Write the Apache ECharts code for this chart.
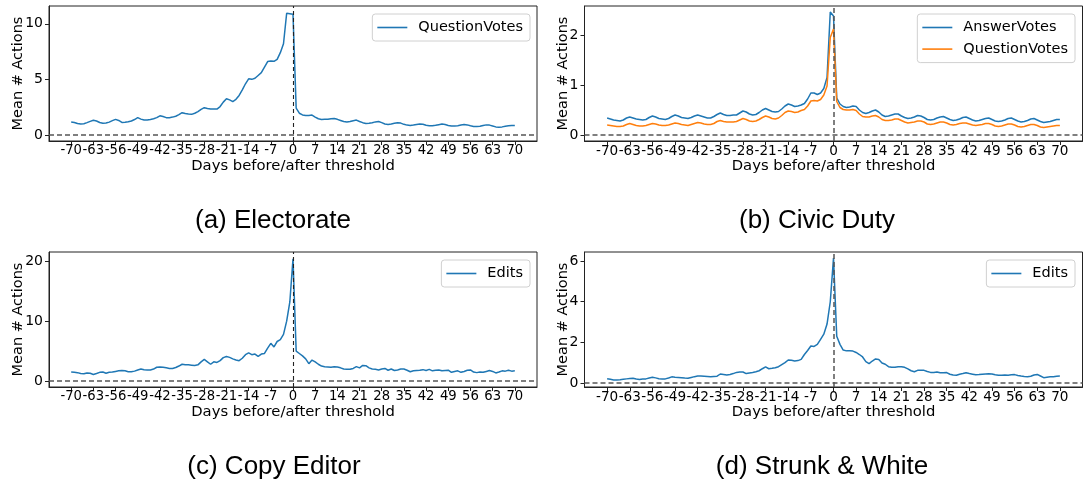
<!DOCTYPE html>
<html><head><meta charset="utf-8">
<script src="https://cdn.jsdelivr.net/npm/echarts@6/dist/echarts.min.js"></script>
<style>
html,body{margin:0;padding:0;background:#fff;width:1084px;height:483px;overflow:hidden}
.p{position:absolute}
</style></head>
<body>
<div id="pa" class="p" style="left:0;top:0;width:542px;height:246px"></div>
<div id="pb" class="p" style="left:542px;top:0;width:542px;height:246px"></div>
<div id="pc" class="p" style="left:0;top:246px;width:542px;height:237px"></div>
<div id="pd" class="p" style="left:542px;top:246px;width:542px;height:237px"></div>
<script>
// Days before/after threshold
const days = [-70,-69,-68,-67,-66,-65,-64,-63,-62,-61,-60,-59,-58,-57,-56,-55,-54,-53,-52,-51,
-50,-49,-48,-47,-46,-45,-44,-43,-42,-41,-40,-39,-38,-37,-36,-35,-34,-33,-32,-31,
-30,-29,-28,-27,-26,-25,-24,-23,-22,-21,-20,-19,-18,-17,-16,-15,-14,-13,-12,-11,
-10,-9,-8,-7,-6,-5,-4,-3,-2,-1,0,1,2,3,4,5,6,7,8,9,10,11,12,13,14,15,16,17,18,19,20,
21,22,23,24,25,26,27,28,29,30,31,32,33,34,35,36,37,38,39,40,41,42,43,44,45,46,47,48,49,50,
51,52,53,54,55,56,57,58,59,60,61,62,63,64,65,66,67,68,69,70];

const xTicks = [-70,-63,-56,-49,-42,-35,-28,-21,-14,-7,0,7,14,21,28,35,42,49,56,63,70];

// (a) Electorate — QuestionVotes
const electorateQuestionVotes = [1.17,1.12,1.02,0.97,1.00,1.10,1.22,1.32,1.25,1.12,1.05,1.07,1.15,1.28,1.40,1.30,1.12,1.13,1.18,1.25,
1.38,1.55,1.42,1.34,1.33,1.38,1.45,1.55,1.72,1.65,1.55,1.55,1.60,1.68,1.82,2.00,1.92,1.88,1.85,1.95,
2.10,2.30,2.45,2.38,2.33,2.33,2.32,2.55,2.95,3.25,3.15,3.00,3.20,3.55,4.05,4.60,5.05,5.00,5.10,5.35,
5.60,6.10,6.60,6.65,6.62,6.80,7.40,8.20,10.95,10.90,10.85,
2.40,1.95,1.80,1.75,1.75,1.78,1.60,1.45,1.39,1.40,1.40,1.45,1.48,1.40,1.30,1.20,1.15,1.20,1.28,1.33,
1.20,1.10,1.03,1.05,1.10,1.17,1.21,1.10,0.98,0.94,0.98,1.04,1.09,1.06,0.95,0.88,0.85,0.88,0.93,0.97,
0.95,0.86,0.83,0.82,0.86,0.92,0.97,0.93,0.85,0.80,0.79,0.83,0.89,0.94,0.90,0.82,0.76,0.75,0.78,0.84,
0.90,0.88,0.80,0.72,0.69,0.72,0.78,0.82,0.85,0.85];

// (b) Civic Duty — AnswerVotes / QuestionVotes
const civicAnswerVotes = [0.34,0.32,0.30,0.29,0.28,0.30,0.34,0.36,0.34,0.32,0.31,0.30,0.31,0.35,0.38,0.36,0.33,0.32,0.31,0.33,
0.37,0.40,0.38,0.35,0.34,0.33,0.35,0.38,0.40,0.38,0.36,0.34,0.34,0.37,0.41,0.44,0.41,0.39,0.39,0.40,
0.40,0.44,0.48,0.46,0.42,0.40,0.41,0.45,0.50,0.53,0.50,0.47,0.46,0.47,0.52,0.58,0.62,0.60,0.57,0.58,
0.60,0.63,0.72,0.84,0.84,0.81,0.84,0.93,1.15,2.46,2.38,
0.74,0.62,0.57,0.55,0.56,0.58,0.57,0.50,0.45,0.43,0.45,0.48,0.50,0.46,0.40,0.37,0.38,0.40,0.42,0.42,
0.38,0.35,0.33,0.34,0.36,0.39,0.38,0.35,0.31,0.30,0.31,0.34,0.36,0.37,0.34,0.31,0.29,0.30,0.32,0.35,
0.36,0.33,0.30,0.28,0.29,0.31,0.33,0.34,0.31,0.28,0.27,0.28,0.30,0.33,0.34,0.31,0.28,0.26,0.27,0.29,
0.32,0.33,0.30,0.27,0.25,0.26,0.27,0.29,0.31,0.31];
const civicQuestionVotes = [0.20,0.19,0.18,0.17,0.17,0.18,0.21,0.23,0.21,0.19,0.18,0.18,0.19,0.21,0.23,0.22,0.20,0.19,0.19,0.20,
0.22,0.24,0.23,0.21,0.20,0.19,0.21,0.23,0.25,0.24,0.22,0.21,0.21,0.23,0.27,0.29,0.27,0.26,0.26,0.26,
0.27,0.30,0.33,0.31,0.28,0.27,0.28,0.31,0.35,0.38,0.36,0.33,0.32,0.34,0.39,0.45,0.48,0.47,0.45,0.46,
0.49,0.51,0.58,0.68,0.69,0.68,0.71,0.80,0.98,1.95,2.12,
0.67,0.55,0.51,0.50,0.50,0.51,0.49,0.42,0.37,0.36,0.36,0.38,0.39,0.36,0.31,0.29,0.29,0.30,0.32,0.32,
0.29,0.26,0.24,0.25,0.26,0.28,0.28,0.26,0.22,0.21,0.22,0.24,0.26,0.26,0.24,0.21,0.20,0.21,0.23,0.24,
0.24,0.22,0.20,0.19,0.20,0.21,0.23,0.23,0.21,0.18,0.17,0.18,0.20,0.22,0.22,0.20,0.17,0.16,0.17,0.19,
0.21,0.21,0.19,0.16,0.15,0.16,0.17,0.18,0.19,0.19];

// (c) Copy Editor — Edits
const copyEditorEdits = [1.50,1.45,1.40,1.25,1.20,1.35,1.30,1.10,1.25,1.45,1.50,1.30,1.45,1.50,1.60,1.70,1.75,1.70,1.55,1.55,
1.65,1.85,2.00,1.90,1.85,1.85,2.00,2.30,2.35,2.30,2.20,2.10,2.10,2.25,2.50,2.80,2.70,2.70,2.65,2.60,
2.70,3.20,3.60,3.20,2.80,3.20,3.10,3.40,3.90,4.10,3.95,3.70,3.50,3.40,3.80,4.40,4.70,4.40,4.50,4.10,
4.50,4.60,5.50,6.30,5.70,6.60,6.90,7.80,10.00,13.20,20.40,
5.00,4.60,4.20,3.70,2.90,3.50,3.20,2.80,2.50,2.40,2.35,2.30,2.40,2.35,2.20,2.00,1.95,1.95,2.10,2.40,
2.20,2.60,2.55,2.20,2.00,1.95,1.85,2.00,2.10,1.80,2.00,1.75,1.85,2.00,2.00,1.80,1.55,1.70,1.75,1.80,
1.90,1.75,1.95,1.70,1.80,1.85,1.70,1.75,1.80,1.45,1.60,1.70,1.45,1.60,1.80,1.85,1.50,1.40,1.50,1.45,
1.60,1.75,1.60,1.35,1.50,1.70,1.65,1.80,1.65,1.70];

// (d) Strunk & White — Edits
const strunkEdits = [0.21,0.18,0.15,0.15,0.16,0.18,0.20,0.22,0.23,0.19,0.17,0.19,0.20,0.24,0.28,0.25,0.21,0.20,0.20,0.24,
0.30,0.28,0.27,0.26,0.24,0.23,0.27,0.31,0.34,0.34,0.33,0.32,0.31,0.32,0.33,0.44,0.42,0.39,0.42,0.46,
0.52,0.54,0.54,0.46,0.49,0.51,0.55,0.60,0.70,0.79,0.70,0.72,0.75,0.80,0.90,1.00,1.13,1.12,1.08,1.10,
1.16,1.40,1.60,1.82,1.80,1.90,2.15,2.40,2.90,4.00,6.15,
2.30,1.90,1.62,1.58,1.58,1.57,1.50,1.40,1.28,1.05,0.95,1.08,1.18,1.16,0.98,0.92,0.80,0.77,0.77,0.80,
0.80,0.77,0.69,0.60,0.55,0.62,0.62,0.62,0.56,0.52,0.51,0.54,0.50,0.50,0.51,0.43,0.39,0.38,0.43,0.46,
0.50,0.46,0.43,0.40,0.41,0.43,0.44,0.45,0.44,0.40,0.38,0.38,0.39,0.38,0.40,0.41,0.37,0.34,0.32,0.31,
0.33,0.39,0.42,0.34,0.26,0.28,0.30,0.31,0.33,0.34];

const yTicksA = [0, 5, 10];
const yTicksB = [0, 1, 2];
const yTicksC = [0, 10, 20];
const yTicksD = [0, 2, 4, 6];

const BLUE = '#1f77b4', ORANGE = '#ff7f0e';
const TICK_FONT = '"DejaVu Sans", sans-serif';

function pairs(vals) { return days.map((d, i) => [d, vals[i]]); }

function build(id, c) {
  const chart = echarts.init(document.getElementById(id), null, {renderer: 'canvas'});
  const series = c.series.map((s, i) => {
    const o = {
      type: 'line', name: s.name, data: pairs(s.values),
      symbol: 'none', showSymbol: false, smooth: false, silent: true,
      lineStyle: {color: s.color, width: 1.5}, itemStyle: {color: s.color},
      z: 3 + i
    };
    if (i === 0) {
      o.markLine = {
        silent: true, symbol: ['none', 'none'], label: {show: false}, animation: false,
        data: [
          {yAxis: 0, lineStyle: {color: '#555', type: [5, 3], width: 1.5}},
          {xAxis: 0, lineStyle: c.vStyle}
        ]
      };
    }
    return o;
  });
  chart.setOption({
    animation: false,
    backgroundColor: '#fff',
    grid: {left: c.left, top: 6, width: c.width, height: 135, show: true, borderColor: '#222', borderWidth: 1, containLabel: false},
    xAxis: {
      type: 'value', min: -77, max: 77,
      name: 'Days before/after threshold', nameLocation: 'middle', nameGap: 18, nameMoveOverlap: false,
      nameTextStyle: {fontFamily: TICK_FONT, fontSize: 14.8, color: '#000'},
      axisLine: {show: true, onZero: false, lineStyle: {color: '#222', width: 1}},
      axisTick: {show: true, length: 4, lineStyle: {color: '#222'}, customValues: xTicks},
      axisLabel: {fontFamily: TICK_FONT, fontSize: c.xFont, color: '#000', margin: 3, customValues: xTicks,
                  hideOverlap: false, showMinLabel: true, showMaxLabel: true},
      splitLine: {show: false}
    },
    yAxis: {
      type: 'value', min: c.yMin, max: c.yMax,
      name: 'Mean # Actions', nameLocation: 'middle', nameGap: c.nameGap, nameMoveOverlap: false,
      nameTextStyle: {fontFamily: TICK_FONT, fontSize: 14.5, color: '#000'},
      axisLine: {show: true, onZero: false, lineStyle: {color: '#222', width: 1}},
      axisTick: {show: true, length: 4, lineStyle: {color: '#222'}, customValues: c.yTicks},
      axisLabel: {fontFamily: TICK_FONT, fontSize: 14, color: '#000', margin: 6, customValues: c.yTicks},
      splitLine: {show: false}
    },
    legend: {
      show: true, orient: 'vertical', right: c.legendRight, top: 14,
      data: c.series.map(s => s.name),
      icon: 'rect', itemWidth: 30, itemHeight: 1.6, itemGap: 4.6,
      padding: [5, 7, 5, 5],
      backgroundColor: 'rgba(255,255,255,0.85)', borderColor: '#d0d0d0', borderWidth: 1, borderRadius: 3,
      textStyle: {fontFamily: TICK_FONT, fontSize: 14.5, color: '#000', lineHeight: 17, padding: [0, 0, 0, 6]},
      selectedMode: false
    },
    graphic: [{
      type: 'text', x: c.titleX, y: 221,
      style: {text: c.title, font: '26px "Liberation Sans", Arial, sans-serif', fill: '#000', textAlign: 'center', textVerticalAlign: 'middle'}
    }],
    series: series
  });
}

const vThin = {color: '#222', type: [4, 3], width: 1.1};
const vThick = {color: '#555', type: [5, 3], width: 1.5};

build('pa', {left: 49, width: 488, yMin: -0.55, yMax: 11.6, yTicks: yTicksA, nameGap: 23, legendRight: 12, xFont: 13.2,
  title: '(a) Electorate', titleX: 273, vStyle: vThin,
  series: [{name: 'QuestionVotes', values: electorateQuestionVotes, color: BLUE}]});
build('pb', {left: 42.5, width: 498, yMin: -0.12, yMax: 2.58, yTicks: yTicksB, nameGap: 14, legendRight: 9, xFont: 13.6,
  title: '(b) Civic Duty', titleX: 275, vStyle: vThick,
  series: [{name: 'AnswerVotes', values: civicAnswerVotes, color: BLUE},
           {name: 'QuestionVotes', values: civicQuestionVotes, color: ORANGE}]});
build('pc', {left: 49, width: 488, yMin: -1.0, yMax: 21.55, yTicks: yTicksC, nameGap: 23, legendRight: 12, xFont: 13.2,
  title: '(c) Copy Editor', titleX: 274, vStyle: vThin,
  series: [{name: 'Edits', values: copyEditorEdits, color: BLUE}]});
build('pd', {left: 42.5, width: 498, yMin: -0.2, yMax: 6.45, yTicks: yTicksD, nameGap: 14, legendRight: 9, xFont: 13.6,
  title: '(d) Strunk & White', titleX: 280, vStyle: vThick,
  series: [{name: 'Edits', values: strunkEdits, color: BLUE}]});
</script>
</body></html>
